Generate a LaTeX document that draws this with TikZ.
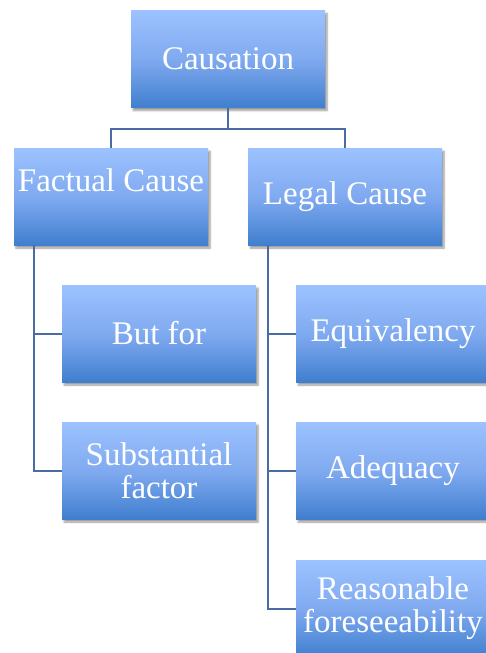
\documentclass[tikz,border=0pt]{standalone}
\usepackage{fontspec}
\setmainfont{Liberation Serif}
\usetikzlibrary{calc,positioning,shadows.blur}

\definecolor{boxtop}{RGB}{156,194,255}
\definecolor{boxmid}{RGB}{128,170,240}
\definecolor{boxbot}{RGB}{64,127,207}
\definecolor{linecol}{RGB}{74,108,162}

\begin{document}
\begin{tikzpicture}
[
	              x = 1pt,
	              y = -1pt,
	    box/.style = { draw=none, rectangle, inner sep=0pt,
	                   minimum width=194pt, minimum height=97pt,
	                   top color=boxtop, bottom color=boxbot, middle color=boxmid,
	                   text=white, align=center,
	                   font=\fontsize{33}{33}\selectfont,
	                   blur shadow={shadow xshift=2pt, shadow yshift=-3pt,
	                                shadow blur steps=6, shadow opacity=40} },
	   conn/.style = { draw=linecol, line width=2pt }
]
	\useasboundingbox (0,0) rectangle (486,653);
	\clip (0,0) rectangle (486,653);

	\node (cause)  at (228,59)    [box] {Causation};

	\node (fact)   at (111,196.5) [box] {Factual Cause\\\mbox{}};
	\node (legal)  at (345,196.5) [box] {Legal Cause};

	\node (butfor) at (159,333.5) [box] {But for};
	\node (subst)  at (159,470.5) [box] {Substantial\\factor};

	\node (equiv)  at (393,333.5) [box] {Equivalency};
	\node (adeq)   at (393,470.5) [box] {Adequacy};
	\node (reason) at (393,608.5) [box] {Reasonable\\foreseeability};

	\draw [conn] (cause.south) -- ++(0,21) -| (fact.north);
	\draw [conn] (cause.south) -- ++(0,21) -| (legal.north);

	\draw [conn] ($(fact.south west)+(20,0)$) |- (butfor.west);
	\draw [conn] ($(fact.south west)+(20,0)$) |- (subst.west);

	\draw [conn] ($(legal.south west)+(20,0)$) |- (equiv.west);
	\draw [conn] ($(legal.south west)+(20,0)$) |- (adeq.west);
	\draw [conn] ($(legal.south west)+(20,0)$) |- (reason.west);

\end{tikzpicture}
\end{document}
